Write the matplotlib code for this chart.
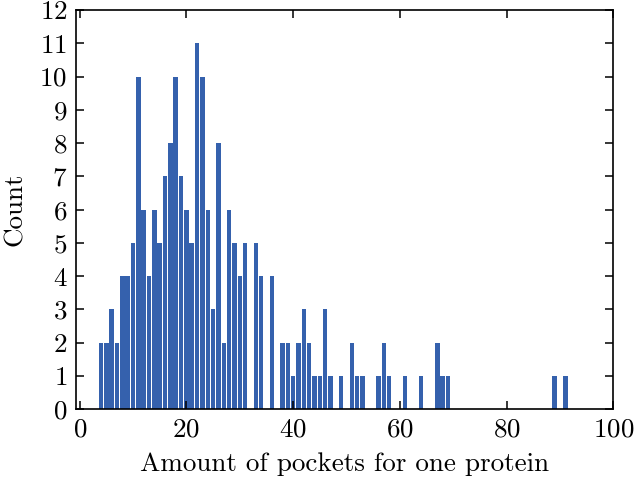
import numpy as np
import matplotlib
matplotlib.use('Agg')
import matplotlib.pyplot as plt

# pocket count per protein -> number of proteins
pockets = [4, 5, 6, 7, 8, 9, 10, 11, 12, 13, 14, 15, 16, 17, 18, 19, 20,
           21, 22, 23, 24, 25, 26, 27, 28, 29, 30, 31, 33, 34, 36, 38, 39,
           40, 41, 42, 43, 44, 45, 46, 47, 49, 51, 52, 53, 56, 57, 58, 61,
           64, 67, 68, 69, 89, 91]
counts = [2, 2, 3, 2, 4, 4, 5, 10, 6, 4, 6, 5, 7, 8, 10, 7, 6,
          5, 11, 10, 6, 3, 8, 2, 6, 5, 4, 5, 5, 4, 4, 2, 2,
          1, 2, 3, 2, 1, 1, 3, 1, 1, 2, 1, 1, 1, 2, 1, 1,
          1, 2, 1, 1, 1, 1]

plt.rcParams['font.family'] = 'serif'
plt.rcParams['font.serif'] = ['cmr10']
plt.rcParams['mathtext.fontset'] = 'cm'
plt.rcParams['axes.formatter.use_mathtext'] = True

fig = plt.figure(figsize=(6.34, 4.83), dpi=100)
ax = fig.add_axes([0.1194, 0.1526, 0.848, 0.8267])

bins = np.arange(min(pockets) - 0.5, max(pockets) + 1.5, 1)
ax.hist(pockets, bins=bins, weights=counts, rwidth=0.85, color='#3561ad')

ax.set_xlim(-0.75, 100)
ax.set_ylim(0, 12)
ax.set_xticks(np.arange(0, 101, 20))
ax.set_yticks(np.arange(0, 13, 1))
ax.tick_params(direction='in', top=True, right=True, length=6, width=1.1,
               labelsize=19.5, pad=6)
for s in ax.spines.values():
    s.set_linewidth(1.2)

ax.set_xlabel('Amount of pockets for one protein', fontsize=19.5, labelpad=8)
ax.set_ylabel('Count', fontsize=19.5, labelpad=9)

plt.savefig('out.png', dpi=100)
